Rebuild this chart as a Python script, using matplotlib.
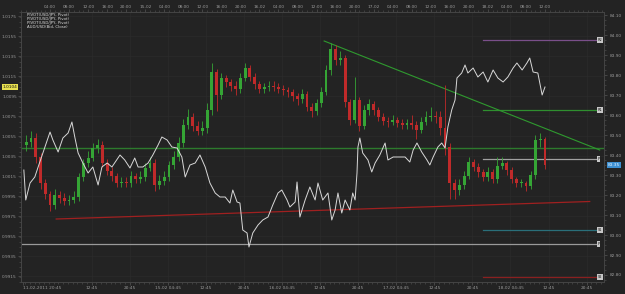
import numpy as np
import matplotlib
matplotlib.use('Agg')
import matplotlib.pyplot as plt

#
# Data (hours counted from 14-02-2011 00:00)
#

# AUD/USD bid close (left axis)
aud_hours = [-1.5, -1.1, -0.2, 0.8, 1.5, 2.5, 4.0, 4.6, 5.7, 6.7, 7.8, 8.6, 9.2, 9.9, 10.9, 12.0, 13.0, 14.1,
             14.9, 16.0, 17.0, 18.7, 19.7, 20.8, 21.8, 22.5, 23.5, 24.6, 25.6, 26.7, 27.5, 28.6, 29.6, 30.7,
             31.7, 32.4, 33.4, 34.5, 35.5, 36.6, 37.6, 38.7, 39.7, 40.8, 41.8, 42.4, 43.3, 43.9, 44.5, 45.4,
             45.8, 46.6, 47.7, 48.7, 49.8, 50.8, 51.9, 52.7, 53.8, 54.4, 55.5, 55.9, 56.5, 57.6, 58.6, 59.7,
             60.3, 61.3, 62.4, 63.2, 63.9, 64.5, 65.3, 66.0, 67.0, 67.6, 68.1, 68.5, 68.7, 69.1, 69.7, 70.8,
             71.6, 72.3, 73.3, 74.4, 75.0, 76.1, 77.1, 78.6, 79.6, 80.3, 81.1, 82.1, 83.2, 83.8, 84.5, 85.5,
             86.3, 87.0, 87.6, 88.4, 89.1, 89.5, 90.5, 91.2, 91.8, 92.9, 93.9, 95.0, 96.0, 97.1, 98.1, 99.2,
             100.2, 101.3, 102.1, 103.2, 104.2, 104.8, 105.5, 106.5, 107.4, 108.0]
aud_close = [1.0021, 0.9991, 1.0008, 1.0014, 1.0024, 1.0038, 1.0059, 1.0051, 1.0039, 1.0053, 1.0058, 1.0069,
             1.0054, 1.0038, 1.0028, 1.0018, 1.0024, 1.0006, 1.0024, 1.0028, 1.0024, 1.0036, 1.0031, 1.0023,
             1.0033, 1.0024, 1.0024, 1.0028, 1.0036, 1.0046, 1.0054, 1.0051, 1.0044, 1.0043, 1.0034, 1.0014,
             1.0026, 1.0028, 1.0036, 1.0024, 1.0008, 0.9998, 0.9994, 0.9994, 0.9988, 1.0001, 0.9989, 0.9988,
             0.9961, 0.9958, 0.9944, 0.9958, 0.9966, 0.9971, 0.9974, 0.9986, 0.9998, 1.0001, 0.9991, 0.9984,
             0.9989, 1.0009, 0.9974, 0.9991, 1.0004, 0.9991, 1.0008, 0.9991, 0.9998, 0.9971, 0.9981, 0.9998,
             0.9978, 0.9991, 0.9981, 0.9998, 0.9991, 1.0018, 1.0044, 1.0053, 1.0038, 1.0031, 1.0019, 1.0028,
             1.0036, 1.0048, 1.0031, 1.0034, 1.0034, 1.0034, 1.0029, 1.0041, 1.0048, 1.0039, 1.0031, 1.0026,
             1.0034, 1.0044, 1.0048, 1.0043, 1.0064, 1.0081, 1.0091, 1.0113, 1.0118, 1.0126, 1.0118, 1.0123,
             1.0114, 1.0119, 1.0109, 1.0121, 1.0113, 1.0109, 1.0114, 1.0123, 1.0128, 1.0121, 1.0128, 1.0133,
             1.0119, 1.0118, 1.0096, 1.0104]

# USD/JPY hourly candles (right axis)
jpy_hours = np.arange(-1, 109)
jpy_first_open = 83.45
jpy_close = [83.465, 83.485, 83.39, 83.26, 83.205, 83.15, 83.20, 83.185, 83.17, 83.175, 83.19, 83.29, 83.36,
             83.385, 83.435, 83.45, 83.36, 83.32, 83.295, 83.26, 83.265, 83.26, 83.295, 83.28, 83.29, 83.335,
             83.36, 83.25, 83.27, 83.29, 83.35, 83.39, 83.46, 83.55, 83.59, 83.545, 83.52, 83.535, 83.625,
             83.815, 83.70, 83.785, 83.765, 83.745, 83.73, 83.785, 83.835, 83.79, 83.755, 83.73, 83.74,
             83.745, 83.74, 83.73, 83.725, 83.715, 83.695, 83.68, 83.705, 83.64, 83.62, 83.66, 83.715,
             83.825, 83.93, 83.875, 83.885, 83.665, 83.575, 83.675, 83.545, 83.625, 83.655, 83.625, 83.59,
             83.57, 83.565, 83.575, 83.56, 83.55, 83.56, 83.55, 83.525, 83.565, 83.59, 83.595, 83.59,
             83.535, 83.44, 83.26, 83.225, 83.25, 83.295, 83.365, 83.34, 83.315, 83.29, 83.315, 83.28,
             83.345, 83.36, 83.325, 83.28, 83.26, 83.26, 83.245, 83.30, 83.475, 83.48, 83.35]
jpy_high = [83.50, 83.52, 83.51, 83.41, 83.28, 83.22, 83.23, 83.22, 83.21, 83.20, 83.22, 83.31, 83.38,
            83.42, 83.46, 83.48, 83.47, 83.38, 83.34, 83.31, 83.29, 83.29, 83.32, 83.31, 83.32, 83.36,
            83.39, 83.38, 83.30, 83.32, 83.37, 83.42, 83.49, 83.58, 83.63, 83.61, 83.57, 83.57, 83.66,
            83.86, 83.83, 83.81, 83.80, 83.78, 83.77, 83.81, 83.86, 83.85, 83.81, 83.77, 83.76,
            83.77, 83.77, 83.76, 83.75, 83.74, 83.73, 83.71, 83.73, 83.72, 83.66, 83.68, 83.74,
            83.85, 83.96, 83.95, 83.92, 83.90, 83.68, 83.79, 83.69, 83.65, 83.68, 83.67, 83.64,
            83.61, 83.59, 83.60, 83.59, 83.58, 83.58, 83.60, 83.57, 83.59, 83.62, 83.64, 83.62,
            83.62, 83.75, 83.46, 83.28, 83.28, 83.32, 83.39, 83.38, 83.36, 83.33, 83.34, 83.33,
            83.39, 83.39, 83.37, 83.34, 83.29, 83.28, 83.27, 83.32, 83.50, 83.51, 83.49]
jpy_low = [83.42, 83.44, 83.36, 83.23, 83.18, 83.12, 83.13, 83.16, 83.15, 83.15, 83.16, 83.17, 83.27,
           83.34, 83.37, 83.41, 83.34, 83.30, 83.27, 83.24, 83.24, 83.24, 83.24, 83.26, 83.26, 83.27,
           83.32, 83.22, 83.23, 83.25, 83.27, 83.33, 83.37, 83.44, 83.53, 83.52, 83.50, 83.50, 83.51,
           83.60, 83.62, 83.68, 83.74, 83.72, 83.70, 83.71, 83.77, 83.77, 83.73, 83.71, 83.71,
           83.72, 83.72, 83.71, 83.70, 83.69, 83.67, 83.65, 83.66, 83.62, 83.59, 83.60, 83.64,
           83.70, 83.80, 83.85, 83.85, 83.64, 83.55, 83.56, 83.52, 83.53, 83.60, 83.60, 83.57,
           83.55, 83.54, 83.55, 83.54, 83.53, 83.53, 83.53, 83.48, 83.51, 83.55, 83.57, 83.56,
           83.50, 83.40, 83.18, 83.18, 83.20, 83.23, 83.28, 83.32, 83.29, 83.27, 83.27, 83.26,
           83.26, 83.33, 83.30, 83.26, 83.24, 83.24, 83.22, 83.23, 83.28, 83.44, 83.33]

# pivot levels (USD/JPY)
pivot_names = ['R2', 'R1', 'P', 'S1', 'S2']
pivot_values = [83.975, 83.625, 83.38, 83.025, 82.79]
pivot_colors = ['#7a4f8a', '#2f8f2f', '#a0a0a0', '#2a6f7a', '#8a2020']
pivot_start = 95.0
old_pivot = 82.955
green_level = 83.435

# trend lines (hour, price)
trend_down = ([61.6, 119.5], [83.97, 83.425])
trend_up = ([5.3, 117.4], [83.08, 83.1675])

# axes ticks
top_pos = np.arange(4, 109, 4)
top_labels = ['04:00', '08:00', '12:00', '16:00', '20:00', '15-02',
              '04:00', '08:00', '12:00', '16:00', '20:00', '16-02',
              '04:00', '08:00', '12:00', '16:00', '20:00', '17-02',
              '04:00', '08:00', '12:00', '16:00', '20:00', '18-02',
              '04:00', '08:00', '12:00']
bottom_pos = [12.75, 20.75, 28.75, 36.75, 44.75, 52.75, 60.75, 68.75, 76.75, 84.75, 92.75, 100.75, 108.75, 116.75]
bottom_labels = ['12:45', '20:45', '15-02 04:45', '12:45', '20:45', '16-02 04:45', '12:45', '20:45',
                 '17-02 04:45', '12:45', '20:45', '18-02 04:45', '12:45', '20:45']
first_label = '11-02-2011 20:45'
legend_lines = ['PIVOT(USD/JPY, Pivot)', 'PIVOT(USD/JPY, Pivot)', 'PIVOT(USD/JPY, Pivot)', 'AUD/USD(Bid, Close)']


#
# Plot
#

bg = '#1e1e1e'
txt = '#9a9a9a'
fs = 3.1

fig = plt.figure(figsize=(6.25, 2.94), dpi=100, facecolor='#232323')
ax = fig.add_axes([21/625, 1 - 282/294, 583/625, 270/294], facecolor=bg)
ax2 = ax.twinx()

ax.set_xlim(-2.1, 120.4)
ax.set_ylim(0.9909, 1.0179)
ax2.set_ylim(82.765, 84.115)

# grid
for y in np.arange(0.9915, 1.0176, 0.002):
    ax2.axhline(82.765 + (y - 0.9909) * 50, color='#2b2b2b', lw=0.5, zorder=0)
for x in bottom_pos:
    ax2.axvline(x, color='#2b2b2b', lw=0.5, zorder=0)

# level lines
ax2.axhline(green_level, color='#2d7a2d', lw=1.0, zorder=2)
ax2.plot([-1.8, 118.9], [old_pivot, old_pivot], color='#9a9a9a', lw=0.9, zorder=2)
for name, val, col in zip(pivot_names, pivot_values, pivot_colors):
    ax2.plot([pivot_start, 118.9], [val, val], color=col, lw=0.9, zorder=2)
    ax2.text(119.1, val, name, fontsize=2.5, color='#111111', va='center', ha='left',
             bbox=dict(boxstyle='square,pad=0.15', fc='#c8c8c8', ec='none'), zorder=6)
ax2.text(119.1, old_pivot, 'P', fontsize=2.5, color='#111111', va='center', ha='left',
         bbox=dict(boxstyle='square,pad=0.15', fc='#c8c8c8', ec='none'), zorder=6)

ax2.plot(*trend_down, color='#2f9a2f', lw=0.8, zorder=3)
ax2.plot(*trend_up, color='#a02020', lw=0.9, zorder=3)

# candles
close = np.array(jpy_close)
opens = np.r_[jpy_first_open, close[:-1]]
up = close >= opens
cols = np.where(up, '#35a535', '#c02a2a')
ax2.vlines(jpy_hours, jpy_low, jpy_high, colors=cols, lw=0.6, zorder=4)
ax2.bar(jpy_hours, np.maximum(np.abs(close - opens), 0.006), bottom=np.minimum(opens, close),
        width=0.6, color=cols, zorder=4)

# AUD/USD line on top of the candles
ax.set_zorder(ax2.get_zorder() + 1)
ax.patch.set_visible(False)
ax2.patch.set_facecolor(bg)
ax.plot(aud_hours, aud_close, color='#d8d8d8', lw=0.7, zorder=5)

# ticks
ax.set_yticks(np.arange(0.9915, 1.0176, 0.002))
ax.set_yticklabels(['%.4f' % v for v in np.arange(0.9915, 1.0176, 0.002)])
ax.set_yticks(np.arange(0.9909, 1.0179, 0.0005), minor=True)
ax2.set_yticks(np.arange(82.8, 84.11, 0.1))
ax2.set_yticklabels(['%.2f' % v for v in np.arange(82.8, 84.11, 0.1)])
ax2.set_yticks(np.arange(82.775, 84.115, 0.025), minor=True)

ax.set_xticks([-1.7] + bottom_pos)
ax.set_xticklabels([first_label] + bottom_labels)
ax.get_xticklabels()[0].set_ha('left')
ax.set_xticks(np.arange(-1.25, 120, 1), minor=True)

top = ax.secondary_xaxis('top')
top.set_xticks(top_pos)
top.set_xticklabels(top_labels)
top.set_xticks(np.arange(-2, 120.4, 1), minor=True)

for a in (ax, ax2, top):
    a.tick_params(which='major', colors='#555555', labelcolor=txt, labelsize=fs, length=2, width=0.5, pad=1)
    a.tick_params(which='minor', colors='#555555', length=1.2, width=0.4)
    for s in a.spines.values():
        s.set_color('#444444')
        s.set_linewidth(0.6)
ax2.tick_params(axis='y', pad=2.5)
top.tick_params(pad=0.5)

# current value labels
ax.annotate('1.0104', xy=(0, 1.0104), xycoords=('axes fraction', 'data'), xytext=(-2.5, 0),
            textcoords='offset points', ha='right', va='center', fontsize=fs, color='#111111',
            bbox=dict(boxstyle='square,pad=0.2', fc='#e8e050', ec='none'), annotation_clip=False)
ax2.annotate('83.35', xy=(1, 83.35), xycoords=('axes fraction', 'data'), xytext=(3, 0),
             textcoords='offset points', ha='left', va='center', fontsize=fs, color='#e8f4ff',
             bbox=dict(boxstyle='square,pad=0.2', fc='#3d8fd0', ec='none'), annotation_clip=False)

# legend
for i, line in enumerate(legend_lines):
    ax.text(0.01, 0.997 - i * 0.0155, line, transform=ax.transAxes, fontsize=2.8,
            color='#dcdcdc', va='top', ha='left', zorder=10)

plt.savefig('out.png', dpi=100, facecolor=fig.get_facecolor())
